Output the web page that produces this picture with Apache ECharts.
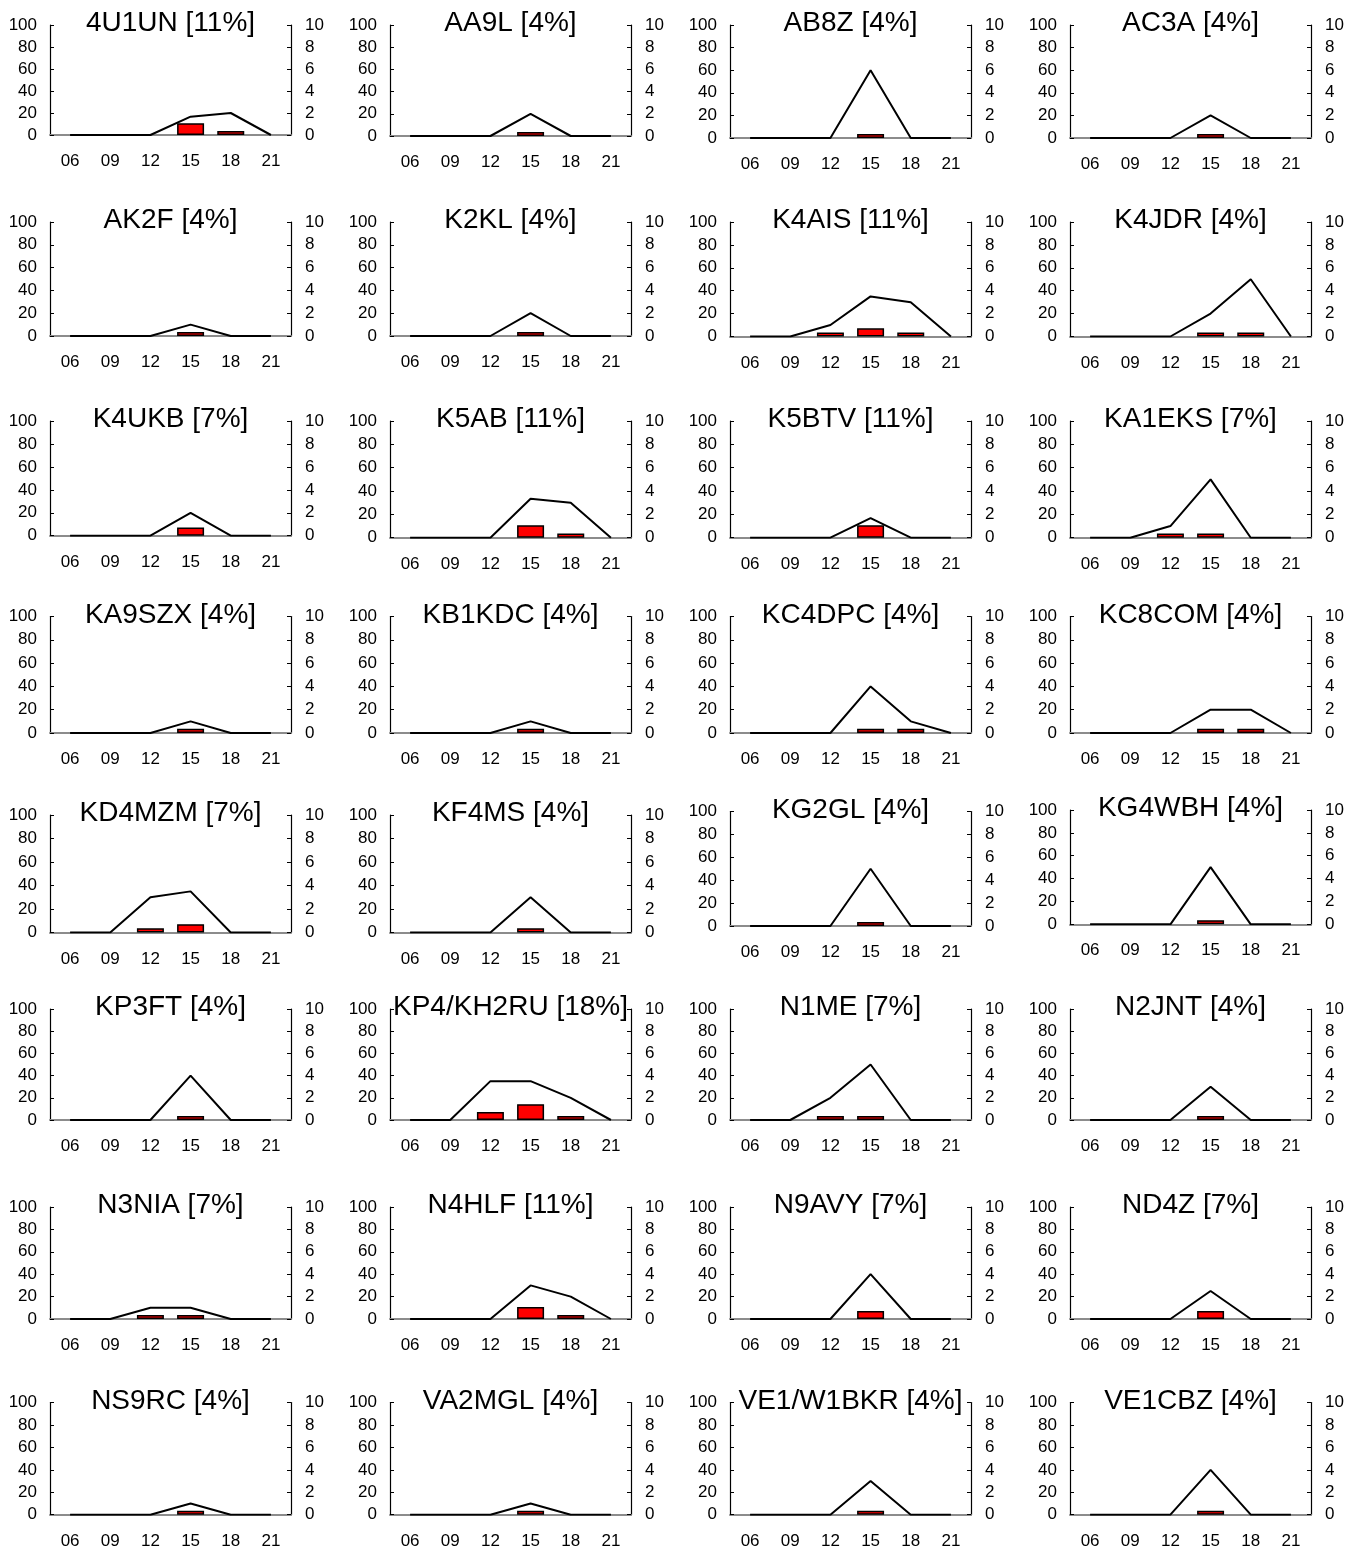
<!DOCTYPE html>
<html><head><meta charset="utf-8">
<script src="https://cdn.jsdelivr.net/npm/echarts@6/dist/echarts.min.js"></script>
<style>html,body{margin:0;padding:0;background:#fff}#c{width:1363px;height:1550px}</style>
</head><body><div id="c"></div>
<script>
// ---------------- data ----------------
const hours = ['06', '09', '12', '15', '18', '21'];
const callsigns = [
  '4U1UN', 'AA9L', 'AB8Z', 'AC3A',
  'AK2F', 'K2KL', 'K4AIS', 'K4JDR',
  'K4UKB', 'K5AB', 'K5BTV', 'KA1EKS',
  'KA9SZX', 'KB1KDC', 'KC4DPC', 'KC8COM',
  'KD4MZM', 'KF4MS', 'KG2GL', 'KG4WBH',
  'KP3FT', 'KP4/KH2RU', 'N1ME', 'N2JNT',
  'N3NIA', 'N4HLF', 'N9AVY', 'ND4Z',
  'NS9RC', 'VA2MGL', 'VE1/W1BKR', 'VE1CBZ'
];
const shares = [
  11, 4, 4, 4,
  4, 4, 11, 4,
  7, 11, 11, 7,
  4, 4, 4, 4,
  7, 4, 4, 4,
  4, 18, 7, 4,
  7, 11, 7, 7,
  4, 4, 4, 4
];
// line (left axis, 0-100) per station, at hours 06..21
const lineValues = [
  [0, 0, 0, 16.7, 20, 0], [0, 0, 0, 20, 0, 0], [0, 0, 0, 60, 0, 0], [0, 0, 0, 20, 0, 0],
  [0, 0, 0, 10, 0, 0], [0, 0, 0, 20, 0, 0], [0, 0, 10, 35, 30, 0], [0, 0, 0, 20, 50, 0],
  [0, 0, 0, 20, 0, 0], [0, 0, 0, 33.3, 30, 0], [0, 0, 0, 16.7, 0, 0], [0, 0, 10, 50, 0, 0],
  [0, 0, 0, 10, 0, 0], [0, 0, 0, 10, 0, 0], [0, 0, 0, 40, 10, 0], [0, 0, 0, 20, 20, 0],
  [0, 0, 30, 35, 0, 0], [0, 0, 0, 30, 0, 0], [0, 0, 0, 50, 0, 0], [0, 0, 0, 50, 0, 0],
  [0, 0, 0, 40, 0, 0], [0, 0, 35, 35, 20, 0], [0, 0, 20, 50, 0, 0], [0, 0, 0, 30, 0, 0],
  [0, 0, 10, 10, 0, 0], [0, 0, 0, 30, 20, 0], [0, 0, 0, 40, 0, 0], [0, 0, 0, 25, 0, 0],
  [0, 0, 0, 10, 0, 0], [0, 0, 0, 10, 0, 0], [0, 0, 0, 30, 0, 0], [0, 0, 0, 40, 0, 0]
];
// bars (right axis, 0-10) per station, at hours 06..21
const barValues = [
  [0, 0, 0, 1.07, 0.36, 0], [0, 0, 0, 0.36, 0, 0], [0, 0, 0, 0.36, 0, 0], [0, 0, 0, 0.36, 0, 0],
  [0, 0, 0, 0.36, 0, 0], [0, 0, 0, 0.36, 0, 0], [0, 0, 0.36, 0.71, 0.36, 0], [0, 0, 0, 0.36, 0.36, 0],
  [0, 0, 0, 0.71, 0, 0], [0, 0, 0, 1.07, 0.36, 0], [0, 0, 0, 1.07, 0, 0], [0, 0, 0.36, 0.36, 0, 0],
  [0, 0, 0, 0.36, 0, 0], [0, 0, 0, 0.36, 0, 0], [0, 0, 0, 0.36, 0.36, 0], [0, 0, 0, 0.36, 0.36, 0],
  [0, 0, 0.36, 0.71, 0, 0], [0, 0, 0, 0.36, 0, 0], [0, 0, 0, 0.36, 0, 0], [0, 0, 0, 0.36, 0, 0],
  [0, 0, 0, 0.36, 0, 0], [0, 0, 0.71, 1.43, 0.36, 0], [0, 0, 0.36, 0.36, 0, 0], [0, 0, 0, 0.36, 0, 0],
  [0, 0, 0.36, 0.36, 0, 0], [0, 0, 0, 1.07, 0.36, 0], [0, 0, 0, 0.71, 0, 0], [0, 0, 0, 0.71, 0, 0],
  [0, 0, 0, 0.36, 0, 0], [0, 0, 0, 0.36, 0, 0], [0, 0, 0, 0.36, 0, 0], [0, 0, 0, 0.36, 0, 0]
];
const leftAxisMax = 100, leftAxisStep = 20;
const rightAxisMax = 10, rightAxisStep = 2;

// ---------------- layout ----------------
const colLeft = [50, 390, 730, 1070];
const plotW = 241;
const panelTop = [
  25, 25, 25, 25,
  222, 222, 222, 222,
  421, 421, 421, 421,
  616.5, 616.5, 616.5, 616.5,
  815, 815, 811.5, 810,
  1009, 1009, 1009, 1009,
  1207, 1207, 1207, 1207,
  1402.5, 1402.5, 1402.5, 1402.5
];
const panelBottom = [
  135, 136, 138, 138,
  336, 336, 336.5, 336.5,
  535.7, 537.7, 537.7, 537.7,
  733, 733, 733, 733,
  932.5, 932.5, 926, 924.3,
  1120, 1120, 1120, 1120,
  1319, 1319, 1319, 1319,
  1514.7, 1514.7, 1514.7, 1514.7
];

const FONT = '"Liberation Sans", Arial, sans-serif';
const grids = [], xAxes = [], yAxes = [], series = [], titles = [];

callsigns.forEach((cs, i) => {
  const col = i % 4;
  const left = colLeft[col];
  const top = panelTop[i];
  const h = panelBottom[i] - top;
  grids.push({ left: left, top: top, width: plotW, height: h, containLabel: false, outerBoundsMode: 'none' });
  titles.push({
    text: cs + ' [' + shares[i] + '%]',
    left: left + plotW / 2, top: top - 1.5,
    textAlign: 'center', textVerticalAlign: 'middle', padding: 0,
    textStyle: { fontFamily: FONT, fontSize: 28, fontWeight: 'normal', color: '#000' }
  });
  xAxes.push({
    gridIndex: i, type: 'category', data: hours, boundaryGap: true,
    axisLine: { show: true, onZero: false, lineStyle: { color: '#8c8c8c', width: 2 } },
    axisTick: { show: false },
    axisLabel: { interval: 0, margin: 18, fontFamily: FONT, fontSize: 17, color: '#000' },
    splitLine: { show: false }
  });
  const yCommon = {
    gridIndex: i, type: 'value', min: 0,
    axisLine: { show: true, lineStyle: { color: '#000', width: 1.2 } },
    axisTick: { show: true, inside: true, length: 4, lineStyle: { color: '#000', width: 1 } },
    splitLine: { show: false },
    axisLabel: { fontFamily: FONT, fontSize: 17, color: '#000' }
  };
  yAxes.push(Object.assign({}, yCommon, {
    position: 'left', max: leftAxisMax, interval: leftAxisStep,
    axisLabel: Object.assign({}, yCommon.axisLabel, { margin: 13 })
  }));
  yAxes.push(Object.assign({}, yCommon, {
    position: 'right', max: rightAxisMax, interval: rightAxisStep,
    axisLabel: Object.assign({}, yCommon.axisLabel, { margin: 14 })
  }));
  series.push({
    type: 'bar', xAxisIndex: i, yAxisIndex: 2 * i + 1,
    data: barValues[i].map(v => (v === 0 ? null : v)),
    barWidth: 27,
    itemStyle: { color: '#ff0000', borderColor: '#000', borderWidth: 1.5 },
    z: 2, silent: true
  });
  series.push({
    type: 'line', xAxisIndex: i, yAxisIndex: 2 * i,
    data: lineValues[i], symbol: 'none',
    lineStyle: { color: '#000', width: 2 },
    z: 3, silent: true
  });
});

const chart = echarts.init(document.getElementById('c'), null, { renderer: 'canvas' });
chart.setOption({
  animation: false,
  backgroundColor: '#fff',
  title: titles,
  grid: grids,
  xAxis: xAxes,
  yAxis: yAxes,
  series: series
});
</script>
</body></html>
